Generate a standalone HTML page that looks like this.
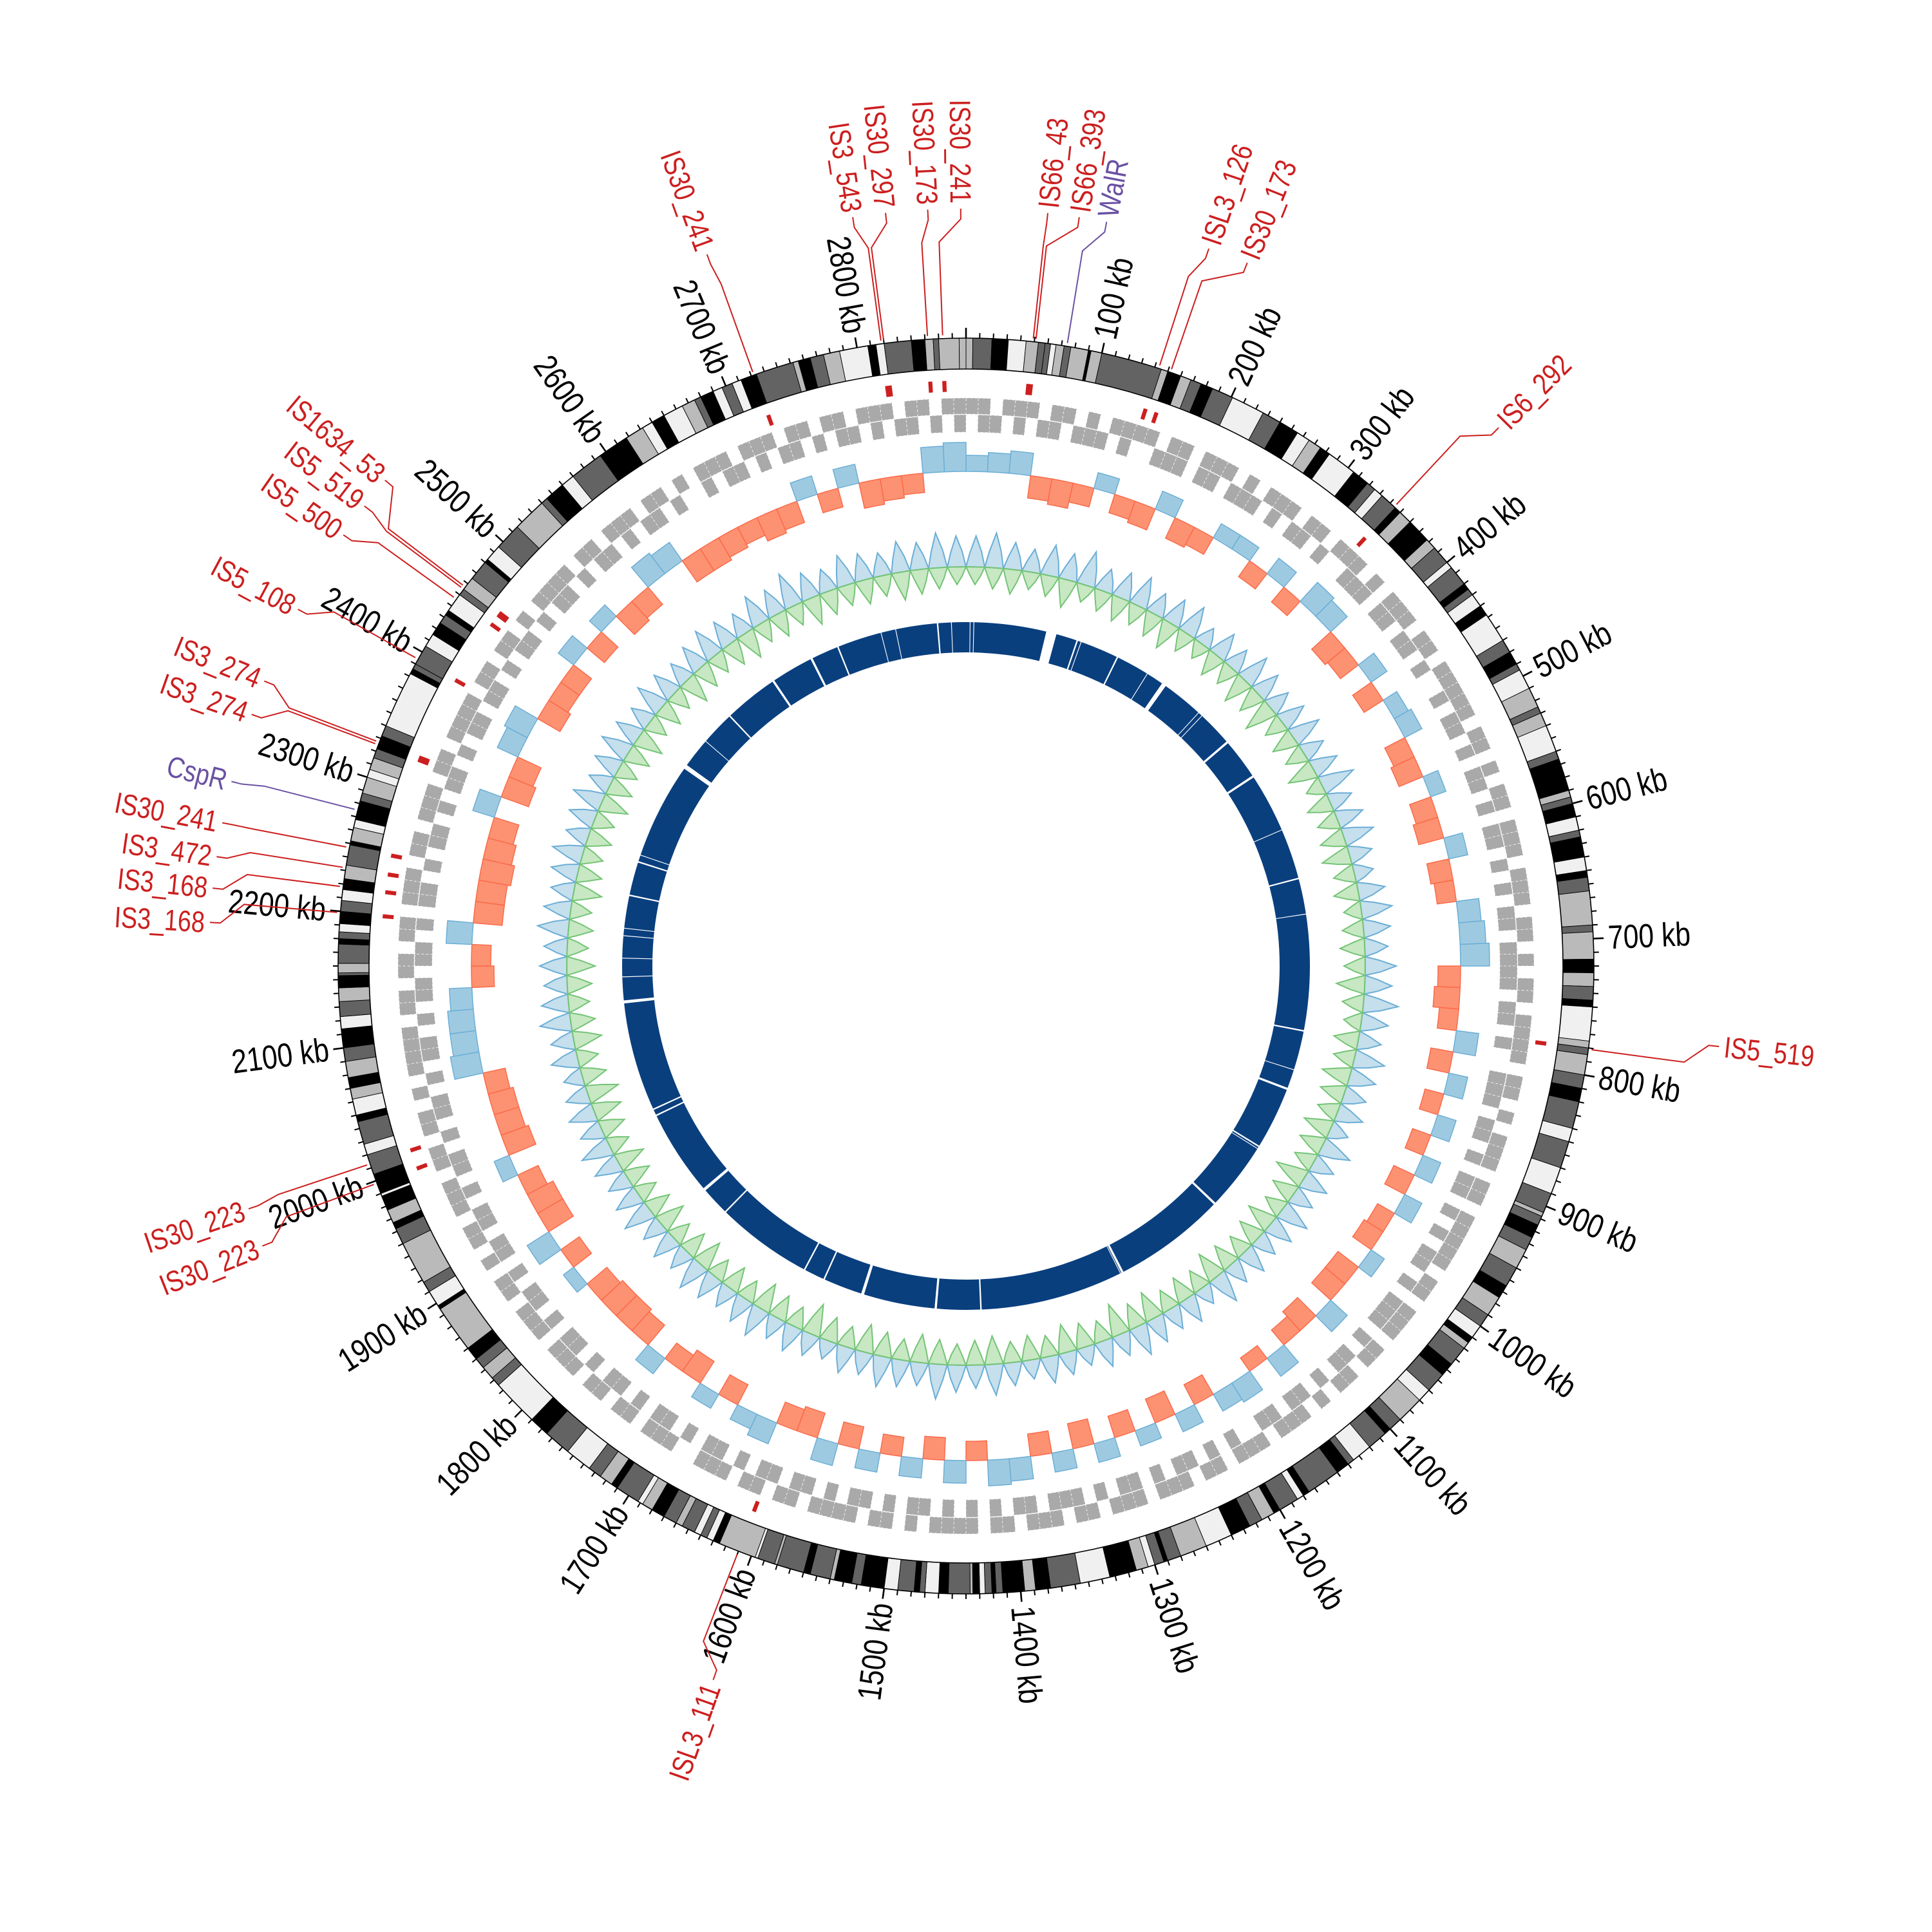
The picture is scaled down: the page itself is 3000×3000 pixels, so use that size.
<!DOCTYPE html>
<html>
<head>
<meta charset="utf-8">
<style>
html,body{margin:0;padding:0;background:#fff;}
svg{display:block;}
text{font-family:"Liberation Sans Narrow","Liberation Sans",sans-serif;}
</style>
</head>
<body>
<svg id="chart" width="3000" height="3000" viewBox="0 0 3000 3000" xmlns="http://www.w3.org/2000/svg">
<rect x="0" y="0" width="3000" height="3000" fill="#ffffff"/>
<g id="gNavy"></g>
<g id="gGC"></g>
<g id="gSkew"></g>
<g id="gGenes"></g>
<g id="gIS"></g>
<g id="gBands"></g>
<g id="gTicks"></g>
<g id="gLabels"></g>
</svg>
<script>
// ---------- data ----------
const genomeKb = 2880;
const bandStart = [0,5,19,31,44,53,58,62,66,72,77,90,92,100,145,150,160,168,176,185,201,226,240,255,265,275,283,305,318,325,332,345,350,360,378,386,400,405,420,425,430,440,448,470,480,490,495,510,525,530,540,560,566,590,595,600,610,620,625,640,650,655,665,690,695,715,725,735,745,750,775,780,785,800,810,820,840,850,870,890,905,908,915,925,935,950,965,975,990,1000,1010,1015,1020,1035,1045,1060,1070,1090,1100,1105,1120,1135,1140,1150,1175,1180,1185,1200,1205,1215,1225,1240,1260,1280,1290,1293,1300,1305,1314,1334,1356,1378,1389,1397,1413,1418,1421,1426,1430,1435,1437,1453,1460,1470,1474,1478,1490,1500,1517,1524,1537,1540,1555,1560,1580,1582,1595,1597,1625,1630,1635,1640,1645,1655,1660,1670,1680,1688,1692,1710,1715,1725,1735,1755,1775,1790,1825,1832,1842,1850,1860,1895,1898,1910,1918,1950,1962,1967,1977,1988,1990,2005,2020,2028,2045,2050,2062,2070,2078,2090,2100,2114,2123,2134,2144,2153,2155,2162,2176,2180,2185,2191,2200,2208,2216,2224,2234,2249,2252,2262,2268,2282,2288,2300,2306,2315,2322,2332,2340,2382,2386,2390,2405,2415,2425,2432,2436,2450,2455,2465,2480,2483,2495,2515,2540,2545,2560,2570,2595,2618,2632,2640,2650,2665,2675,2680,2690,2697,2705,2712,2724,2752,2756,2765,2775,2787,2808,2814,2820,2840,2850,2856,2860,2875];
const bandShade = "1230122012131213123202301303202313120232030232012102312302303212131230121232020212321231203123201232023230231230123201302313232031230232032312321201302021231023120230212313021231303202301312302132123203203123103210123203220323021230212302310301230203213210302312";
const skew = [0.5,0.6,0.7,-0.7,-0.8,-0.6,0.5,-0.6,-0.7,0.6,-0.7,-0.6,0.5,0.5,-0.6,0.6,-0.6,0.8,0.7,-0.8,-0.7,0.6,-0.7,0.5,0.6,-0.7,-0.8,0.5,-0.7,-0.8,0.6,-0.7,-0.6,0.7,0.8,0.9,-0.7,-0.8,-0.6,0.7,-0.7,0.6,-0.6,0.6,-0.6,0.6,-0.7,0.6,-0.6,-0.7,0.5,-0.8,-0.8,0.7,-0.8,-0.6,0.7,-0.5,0.7,0.6,-0.7,0.6,-0.8,0.5,-0.7,0.6,-0.8,0.6,-0.7,0.7,0.8,-0.6,0.7,-0.7,0.6,-0.6,0.6,-0.7,0.7,-0.8,-0.7,0.7,0.5,-0.7,0.5,-0.8,-0.6,0.6,-0.8,-0.9,-0.9,-0.8,0.4,-0.7,0.8,-0.9,-0.9,-0.7,0.5,-0.9,-0.8,-0.8,-0.7,0.9,0.8,0.8,0.7,-0.7,-0.6,0.8,-0.9,-0.9,-1.0,-0.9,-0.8,0.7,-0.9,-0.8,0.7,0.8,-0.8,-0.7,-0.7,0.6,-0.7,0.5,-0.8,-0.7,0.8,0.7,-0.8,-0.8,-0.7,-0.6,-0.8,-0.7,0.6,-0.6,0.6,-0.8,-0.7,-0.6,0.8,0.9];
const gcHigh = [0.8,0.9,0.7,0.6,0.8,0.7,0.9,0.6,0.7,0.8,0.6,0.7,0.8,0.5,0.7,0.6,0.8,0.7,0.6,0.7,0.8,0.6,0.7,0.9,0.6,0.7,0.8,0.6,0.5,0.7,0.8,0.7,0.6,0.8,0.7,0.9,0.7,0.6,0.8,0.7,0.6,0.7,0.5,0.8,0.6,0.7,0.6,0.8,0.7,0.6,0.7,0.6,0.8,0.5,0.7,0.6,0.7,0.8,0.6,0.7,0.5,0.6,0.7,0.5,0.6,0.8,0.6,0.7,0.9,0.6,0.7,0.8,0.6,0.7,0.5,0.6,0.7,0.6,0.8,0.7,0.6,0.7,0.8,0.6,0.7,0.6,0.8,0.7,0.6,0.7,0.8,0.6,0.7,0.6,0.5,0.7,0.6,0.8,0.7,0.6,0.7,0.6,0.8,0.7,0.6,0.7,0.8,0.6,0.7,0.8,0.6,0.7,0.8,0.7,0.6,0.8,0.7,0.6,0.7,0.8,0.7,0.6,0.8,0.7,0.9,0.7,0.6,0.8,0.7,0.6,0.8,0.7,0.9,0.8];
const gcLow = [0.5,0.6,0.7,0.5,0.6,0.8,0.5,0.6,0.7,0.6,0.7,0.8,0.6,0.5,0.7,0.6,0.8,0.7,0.9,0.6,0.7,0.6,0.8,0.5,0.7,0.6,0.7,0.8,0.6,0.7,0.5,0.6,0.7,0.6,0.8,0.6,0.5,0.7,0.6,0.8,0.7,0.6,0.8,0.7,0.6,0.9,0.7,0.6,0.8,0.7,0.6,0.7,0.8,0.6,0.7,0.6,0.8,0.7,0.9,0.6,0.7,0.8,0.6,0.7,0.6,0.8,0.7,0.6,0.7,0.8,0.6,0.7,0.8,0.6,0.7,0.9,0.6,0.7,0.8,0.6,0.7,0.6,0.8,0.7,0.6,0.8,0.7,0.6,0.7,0.8,0.6,0.7,0.8,0.9,0.7,0.6,0.8,0.7,0.6,0.7,0.8,0.6,0.7,0.6,0.8,0.7,0.6,0.7,0.6,0.8,0.7,0.6,0.7,0.8,0.6,0.7,0.6,0.8,0.7,0.6,0.7,0.8,0.6,0.7,0.6,0.8,0.7,0.6,0.7,0.6,0.8,0.7,0.6,0.5];
const geneOuter = "110111011010111101101110101110110111010111011011111011010110111011101101011011110110101110110111110110111011011010111011101101110111011011101101111010110111101101101110011101101101110111011010110111011011010111101101101101110110111011011110110110101111011011101101011101110110110111011011";
const geneInner = "011010110111010011101101110101101001110110110100101101011010110101011011110110100111011010110101011010111010110101101100101011010110101110110101010110101101011011010110101101011010110101101011011010110101101011010110110101101011010110101101101011010110101101011010010110101101011010110101";
const navyGaps = [[5,1],[10,1],[108,14],[150,2],[156,1],[208,2],[254,1],[278,6],[340,1],[346,1],[394,3],[451,3],[533,1],[601,2],[650,1],[806,2],[860,1],[886,3],[972,2],[976,1],[1068,3],[1222,3],[1226,1],[1419,2],[1479,3],[1578,4],[1634,2],[1663,2],[1794,2],[1834,4],[1953,2],[1962,2],[2110,4],[2145,1],[2170,1],[2200,1],[2210,1],[2254,2],[2300,2],[2310,1],[2440,6],[2486,1],[2532,2],[2606,3],[2665,3],[2704,2],[2765,1],[2785,1],[2841,2],[2860,1]];
const featNames = ["IS30_241","IS3_543","IS30_297","IS30_173","IS30_241","IS66_43","IS66_393","WalR","ISL3_126","IS30_173","IS6_292","IS5_519","ISL3_111","IS30_223","IS30_223","IS3_168","IS3_168","IS3_472","IS30_241","CspR","IS3_274","IS3_274","IS5_108","IS5_500","IS5_519","IS1634_53"];
const featKb = [2722,2818,2820,2852,2863,49,51,74,143,152,344,781,1610,1998,2013,2199,2218,2232,2247,2275,2325,2327,2394,2446,2455,2457];
const featLabelDeg = [340.0,351.4,353.9,357.1,359.6,6.2,8.6,10.7,18.7,21.8,44.7,96.1,199.5,248.3,251.3,273.3,275.9,278.3,280.9,284.1,289.4,292.1,298.1,304.7,307.4,309.9];
const featType = ["IS","IS","IS","IS","IS","IS","IS","TF","IS","IS","IS","IS","IS","IS","IS","IS","IS","IS","IS","TF","IS","IS","IS","IS","IS","IS"];
const tickMajorKb = [100,200,300,400,500,600,700,800,900,1000,1100,1200,1300,1400,1500,1600,1700,1800,1900,2000,2100,2200,2300,2400,2500,2600,2700,2800];

// ---------- geometry ----------
const NS = "http://www.w3.org/2000/svg";
const cx = 1500, cy = 1500;
function kbDeg(kb){ return kb * 360 / genomeKb; }
function P(r, deg){ const a = deg*Math.PI/180; return [cx + r*Math.sin(a), cy - r*Math.cos(a)]; }
function f(n){ return n.toFixed(2); }
function sector(r1, r2, d1, d2){
  const large = (d2 - d1) > 180 ? 1 : 0;
  const a = P(r2, d1), b = P(r2, d2), c = P(r1, d2), d = P(r1, d1);
  return "M"+f(a[0])+","+f(a[1])+" A"+r2+","+r2+" 0 "+large+" 1 "+f(b[0])+","+f(b[1])+
         " L"+f(c[0])+","+f(c[1])+" A"+r1+","+r1+" 0 "+large+" 0 "+f(d[0])+","+f(d[1])+" Z";
}
function spike(rBase, rTip, d1, d2){
  const a = P(rBase, d1), m = P(rTip, (d1+d2)/2), b = P(rBase, d2);
  const q1 = P(rBase + (rTip-rBase)*0.45, d1 + (d2-d1)*0.2), q2 = P(rBase + (rTip-rBase)*0.5, d1 + (d2-d1)*0.8);
  return "M"+f(a[0])+","+f(a[1])+" L"+f(q1[0])+","+f(q1[1])+" L"+f(m[0])+","+f(m[1])+" L"+f(q2[0])+","+f(q2[1])+" L"+f(b[0])+","+f(b[1])+" Z";
}
function mk(tag, parent, attrs){
  const el = document.createElementNS(NS, tag);
  for (const k in attrs) el.setAttribute(k, attrs[k]);
  parent.appendChild(el);
  return el;
}
const shadeColor = {"0":"#f0f0f0","1":"#bababa","2":"#636363","3":"#000000"};

// ---------- ideogram ----------
const gB = document.getElementById("gBands");
for (let i = 0; i < bandStart.length; i++){
  const s = bandStart[i], e = (i+1 < bandStart.length) ? bandStart[i+1] : genomeKb;
  const el = mk("path", gB, {d: sector(927, 975, kbDeg(s), kbDeg(e)), fill: shadeColor[bandShade[i]] || "#bababa", stroke:"#000", "stroke-width":"0.9"});
  
  
}
[927, 975].forEach(function(r){
  const c = mk("circle", gB, {cx:cx, cy:cy, r:r, fill:"none", stroke:"#000", "stroke-width":"1.6"});
  
  
});

// ---------- ticks ----------
const gT = document.getElementById("gTicks");
for (let kb = 0; kb < genomeKb; kb += 10){
  const major = (kb % 100 === 0);
  const d = kbDeg(kb);
  const a = P(975, d), b = P(major ? 991 : 983, d);
  const ln = mk("line", gT, {x1:f(a[0]), y1:f(a[1]), x2:f(b[0]), y2:f(b[1]), stroke:"#000", "stroke-width": major ? "2.6" : "2"});
  
  
}
function radialText(parent, str, r, deg, size, color){
  const p = P(r, deg);
  let rot, anchor;
  const dn = ((deg % 360) + 360) % 360;
  if (dn > 0 && dn < 180){ rot = dn - 90; anchor = "start"; } else { rot = dn + 90; anchor = "end"; }
  const t = mk("text", parent, {transform:"translate("+f(p[0])+","+f(p[1])+") rotate("+f(rot)+") scale(0.82,1)", "text-anchor":anchor, "dominant-baseline":"central", "font-size":size, fill:color});
  t.textContent = str;
  return t;
}
tickMajorKb.forEach(function(kb){
  const t = radialText(gT, kb + " kb", 998, kbDeg(kb), 52, "#000");
  
  
});

// ---------- IS markers ----------
const gI = document.getElementById("gIS");
featKb.forEach(function(kb, i){
  if (featType[i] !== "IS") return;
  const d = kbDeg(kb);
  const el = mk("path", gI, {d: sector(892, 909, d - 0.2, d + 0.2), fill:"#cc1f1f"});
  
  
});

// ---------- genes ----------
const gG = document.getElementById("gGenes");
function geneLane(str, r1, r2, name){
  for (let i = 0; i < str.length; i++){
    if (str[i] !== "1") continue;
    const d1 = kbDeg(i*10), d2 = kbDeg(i*10 + 10);
    const el = mk("path", gG, {d: sector(r1, r2, d1, d2), fill:"#a9a9a9", stroke:"#ffffff", "stroke-width":"0.8", "stroke-dasharray":"3,4"});
    
    
  }
}
geneLane(geneOuter, 857, 882, 'gene-forward');
geneLane(geneInner, 829, 856, 'gene-reverse');

// ---------- GC skew ----------
const gS = document.getElementById("gSkew");
const skewBase = 768, skewScale = 50, skewBin = genomeKb / skew.length;
skew.forEach(function(v, i){
  const d1 = kbDeg(i*skewBin), d2 = kbDeg((i+1)*skewBin);
  let el;
  if (v >= 0){
    el = mk("path", gS, {d: sector(skewBase, skewBase + v*skewScale, d1, d2), fill:"#9ecae1", stroke:"#6baed6", "stroke-width":"1.5"});
    
  } else {
    el = mk("path", gS, {d: sector(skewBase + v*skewScale, skewBase, d1, d2), fill:"#fc9272", stroke:"#fb6a4a", "stroke-width":"1.5"});
    
  }
  
});

// ---------- GC content ----------
const gC = document.getElementById("gGC");
const gcBase = 620, gcBin = genomeKb / gcHigh.length;
gcHigh.forEach(function(v, i){
  const d1 = kbDeg(i*gcBin), d2 = kbDeg((i+1)*gcBin);
  const el = mk("path", gC, {d: spike(gcBase, gcBase + v*60, d1, d2), fill:"#9ecae1", "fill-opacity":"0.6", stroke:"#6baed6", "stroke-width":"2"});
  
  
});
gcLow.forEach(function(v, i){
  const d1 = kbDeg(i*gcBin), d2 = kbDeg((i+1)*gcBin);
  const el = mk("path", gC, {d: spike(gcBase, gcBase - v*55, d1, d2), fill:"#a1d99b", "fill-opacity":"0.6", stroke:"#74c476", "stroke-width":"2"});
  
  
});

// ---------- navy ring ----------
const gN = document.getElementById("gNavy");
const ring = mk("circle", gN, {cx:cx, cy:cy, r:510.5, fill:"none", stroke:"#0a3f7e", "stroke-width":"47"});


navyGaps.forEach(function(g){
  const d1 = kbDeg(g[0]), d2 = kbDeg(g[0] + g[1]);
  const el = mk("path", gN, {d: sector(484, 537, d1, d2), fill:"#ffffff"});
  
  
});

// ---------- feature labels ----------
const gL = document.getElementById("gLabels");
featNames.forEach(function(name, i){
  const color = featType[i] === "IS" ? "#cc1f1f" : "#6a51a3";
  const dm = kbDeg(featKb[i]), dl = featLabelDeg[i];
  const p0 = P(980, dm), p1 = P(1125, dm), p2 = P(1160, dl), p3 = P(1176, dl);
  const pl = mk("polyline", gL, {points: [p0,p1,p2,p3].map(function(p){return f(p[0])+","+f(p[1]);}).join(" "), fill:"none", stroke:color, "stroke-width":"2"});
  
  
  const t = radialText(gL, name, 1184, dl, 46, color);
  
  
});
</script>
</body>
</html>
